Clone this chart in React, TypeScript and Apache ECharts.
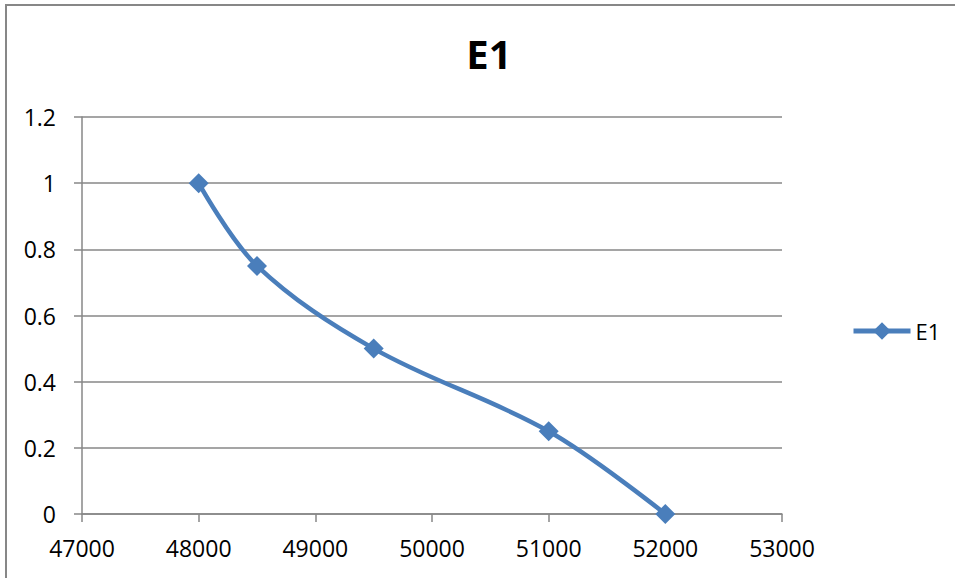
import React, { useEffect, useRef } from "react";
import * as echarts from "echarts";

// E1 curve: x position vs. value
const xValues = [48000, 48500, 49500, 51000, 52000];
const yValues = [1, 0.75, 0.5, 0.25, 0];
const seriesName = "E1";
const chartTitle = "E1";

const FONT = "'Open Sans', 'Liberation Sans', sans-serif";
const LINE_COLOR = "#4A7EBB";
const GRID_COLOR = "#878787";

export default function App() {
  const ref = useRef<HTMLDivElement>(null);

  useEffect(() => {
    if (!ref.current) return;
    const chart = echarts.init(ref.current, undefined, { renderer: "svg" });
    const points = xValues.map((x, i) => [x, yValues[i]]);
    chart.setOption({
      animation: false,
      backgroundColor: "#ffffff",
      textStyle: { fontFamily: FONT },
      title: {
        text: chartTitle,
        left: 484,
        textAlign: "center",
        top: 28,
        textStyle: { fontFamily: FONT, fontSize: 40, fontWeight: "bold", color: "#000" },
      },
      legend: {
        left: 846,
        top: 315,
        itemWidth: 57,
        itemHeight: 22,
        itemGap: 5,
        lineStyle: { width: 5, color: LINE_COLOR },
        itemStyle: { color: LINE_COLOR },
        textStyle: { fontFamily: FONT, fontSize: 22, color: "#000" },
        data: [seriesName],
      },
      grid: {
        left: 82,
        right: 173,
        top: 117,
        bottom: 64,
        containLabel: false,
        outerBoundsMode: "none",
      },
      xAxis: {
        type: "value",
        min: 47000,
        max: 53000,
        interval: 1000,
        axisLine: { show: true, onZero: false, lineStyle: { color: GRID_COLOR, width: 1.5 } },
        axisTick: { show: true, length: 8, inside: false, lineStyle: { color: GRID_COLOR, width: 1.5 } },
        splitLine: { show: false },
        axisLabel: {
          margin: 22,
          fontFamily: FONT,
          fontSize: 23,
          color: "#000",
          formatter: (v: number) => String(v),
        },
      },
      yAxis: {
        type: "value",
        min: 0,
        max: 1.2,
        interval: 0.2,
        axisLine: { show: true, lineStyle: { color: GRID_COLOR, width: 1.5 } },
        axisTick: { show: true, length: 8, inside: false, lineStyle: { color: GRID_COLOR, width: 1.5 } },
        splitLine: { show: true, lineStyle: { color: GRID_COLOR, width: 1.5 } },
        axisLabel: {
          margin: 26,
          fontFamily: FONT,
          fontSize: 23,
          color: "#000",
        },
      },
      series: [
        {
          name: seriesName,
          type: "line",
          data: points,
          smooth: 0.35,
          symbol: "diamond",
          symbolSize: 20,
          showAllSymbol: true,
          lineStyle: { color: LINE_COLOR, width: 4.5 },
          itemStyle: { color: LINE_COLOR },
        },
      ],
      graphic: [
        {
          type: "rect",
          shape: { x: 6, y: 5, width: 1000, height: 700 },
          style: { fill: "none", stroke: GRID_COLOR, lineWidth: 2 },
          silent: true,
          z: -1,
        },
      ],
    });
    return () => chart.dispose();
  }, []);

  return (
    <div
      ref={ref}
      style={{ position: "fixed", left: 0, top: 0, width: 955, height: 578, background: "#fff" }}
    />
  );
}
